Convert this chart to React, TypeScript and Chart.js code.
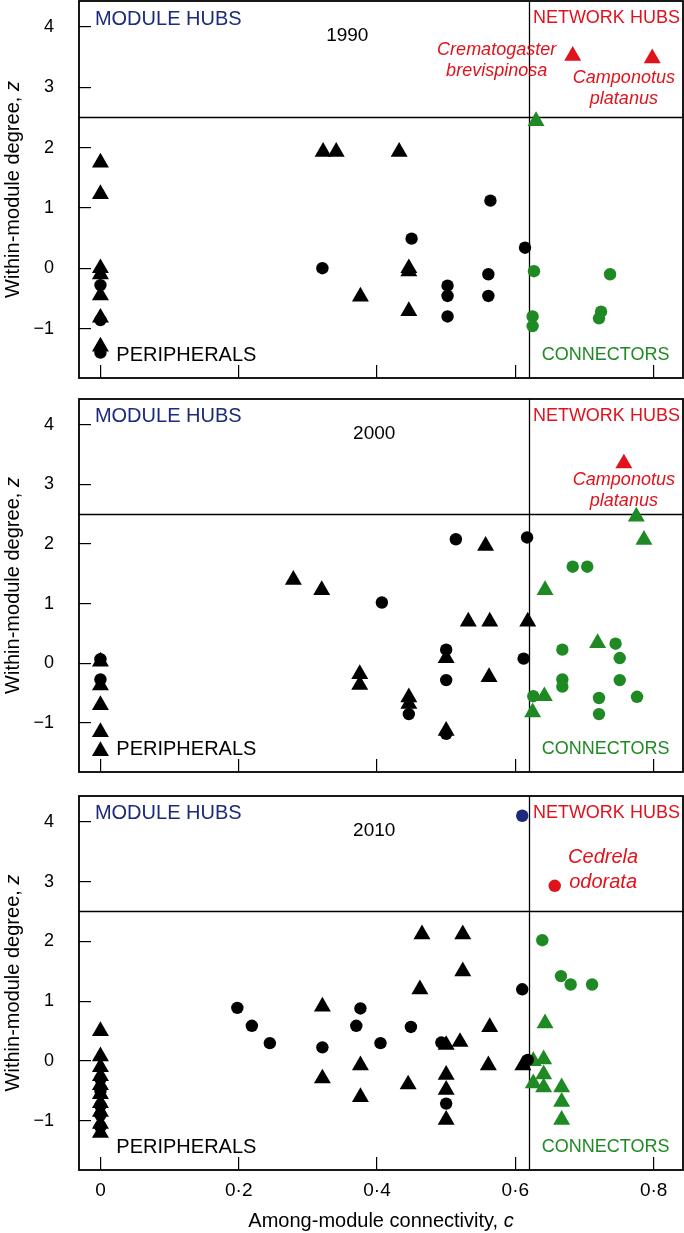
import React, { useEffect, useRef } from 'react';
import { Chart, registerables } from 'chart.js';
Chart.register(...registerables);

type P = [number, number];

// ---------- axes ----------
const xTicks = [0, 0.2, 0.4, 0.6, 0.8];
const xTickLabels = ['0', '0·2', '0·4', '0·6', '0·8'];
const yTicks = [-1, 0, 1, 2, 3, 4];
const yTickLabels = ['−1', '0', '1', '2', '3', '4'];
const X_MIN = -0.031;
const X_MAX = 0.8425;
const Y_MIN = -1.82;
const Y_MAX = 4.43;
const C_THRESHOLD = 0.62;
const Z_THRESHOLD = 2.5;

// ---------- 1990 ----------
const periphTriangles1990: P[] = [
  [0, 1.75], [0, 1.23], [0, 0.0], [0, -0.1], [0, -0.45], [0, -0.82], [0, -1.3],
  [0.322, 1.93], [0.341, 1.93], [0.376, -0.47], [0.432, 1.93], [0.446, 0.0],
  [0.446, -0.05], [0.446, -0.71],
];
const periphCircles1990: P[] = [
  [0, -0.28], [0, -0.86], [0, -1.4], [0.321, 0.0], [0.45, 0.49], [0.502, -0.29],
  [0.502, -0.46], [0.502, -0.8], [0.561, -0.1], [0.561, -0.46], [0.564, 1.12], [0.614, 0.34],
];
const connTriangles1990: P[] = [[0.63, 2.44]];
const connCircles1990: P[] = [
  [0.627, -0.05], [0.625, -0.8], [0.625, -0.96], [0.737, -0.1], [0.724, -0.72], [0.721, -0.83],
];
const hubTriangles1990: P[] = [[0.683, 3.52], [0.798, 3.48]];

// ---------- 2000 ----------
const periphTriangles2000: P[] = [
  [0, 0.03], [0, -0.37], [0, -0.7], [0, -1.15], [0, -1.47], [0.279, 1.4], [0.32, 1.23],
  [0.375, -0.18], [0.375, -0.36], [0.446, -0.57], [0.446, -0.68], [0.5, 0.09], [0.5, -1.13],
  [0.532, 0.7], [0.563, 0.7], [0.618, 0.7], [0.557, 1.97], [0.562, -0.23],
];
const periphCircles2000: P[] = [
  [0, 0.07], [0, -0.27], [0.407, 1.02], [0.446, -0.85], [0.5, 0.23], [0.5, -0.28],
  [0.5, -1.18], [0.514, 2.08], [0.617, 2.11], [0.612, 0.08],
];
const connTriangles2000: P[] = [
  [0.775, 2.46], [0.786, 2.07], [0.643, 1.23], [0.719, 0.34], [0.642, -0.55], [0.625, -0.82],
];
const connCircles2000: P[] = [
  [0.683, 1.62], [0.704, 1.62], [0.668, 0.23], [0.668, -0.27], [0.668, -0.39], [0.626, -0.55],
  [0.745, 0.33], [0.751, 0.09], [0.751, -0.28], [0.721, -0.58], [0.721, -0.85], [0.776, -0.56],
];
const hubTriangles2000: P[] = [[0.757, 3.35]];

// ---------- 2010 ----------
const periphTriangles2010: P[] = [
  [0, 0.5], [0, 0.08], [0, -0.1], [0, -0.25], [0, -0.4], [0, -0.55], [0, -0.7], [0, -0.85],
  [0, -1.05], [0, -1.2], [0.321, 0.91], [0.321, -0.29], [0.376, -0.07], [0.376, -0.6],
  [0.445, -0.39], [0.462, 1.2], [0.465, 2.12], [0.524, 2.12], [0.524, 1.5], [0.52, 0.32],
  [0.5, 0.27], [0.5, -0.23], [0.5, -0.48], [0.5, -0.98], [0.563, 0.57], [0.561, -0.07],
  [0.611, -0.07],
];
const periphCircles2010: P[] = [
  [0, -0.3], [0, -0.5], [0, -0.75], [0, -0.9], [0, -1.1], [0.198, 0.89], [0.219, 0.59],
  [0.245, 0.3], [0.321, 0.23], [0.376, 0.88], [0.37, 0.59], [0.405, 0.3], [0.449, 0.57],
  [0.493, 0.31], [0.5, -0.71], [0.61, 1.2], [0.618, 0.02],
];
const connTriangles2010: P[] = [
  [0.643, 0.63], [0.626, 0.0], [0.641, 0.03], [0.641, -0.22], [0.626, -0.37], [0.641, -0.44],
  [0.667, -0.44], [0.667, -0.68], [0.667, -0.98],
];
const connCircles2010: P[] = [[0.639, 2.02], [0.666, 1.42], [0.68, 1.28], [0.711, 1.28]];
const hubCircles2010: P[] = [[0.657, 2.93]];
const moduleHubCircles2010: P[] = [[0.61, 4.1]];

// ---------- styles ----------
const BLACK = '#000000';
const GREEN = '#1f8a23';
const RED = '#e0121c';
const NAVY = '#1b2a7b';
const FONT = '"Liberation Sans", Arial, Helvetica, sans-serif';

type Series = { data: P[]; color: string; shape: 'circle' | 'triangle' };
type Note = { lines: string[]; c: number; z: number; size: number; lineGap: number };
type Panel = {
  year: string; yearC: number; top: number; height: number; xAxisHeight: number;
  showX: boolean; series: Series[]; notes: Note[];
};

const zoneLabels = [
  { text: 'MODULE HUBS', c: -0.008, z: 4.13, color: NAVY, size: 20, align: 'left' as const },
  { text: 'NETWORK HUBS', c: 0.838, z: 4.15, color: RED, size: 18, align: 'right' as const },
  { text: 'PERIPHERALS', c: 0.023, z: -1.44, color: BLACK, size: 20, align: 'left' as const },
  { text: 'CONNECTORS', c: 0.823, z: -1.44, color: GREEN, size: 18, align: 'right' as const },
];

const panels: Panel[] = [
  {
    year: '1990', yearC: 0.357, top: 0, height: 380, xAxisHeight: 2, showX: false,
    series: [
      { data: periphCircles1990, color: BLACK, shape: 'circle' },
      { data: periphTriangles1990, color: BLACK, shape: 'triangle' },
      { data: connCircles1990, color: GREEN, shape: 'circle' },
      { data: connTriangles1990, color: GREEN, shape: 'triangle' },
      { data: hubTriangles1990, color: RED, shape: 'triangle' },
    ],
    notes: [
      { lines: ['Crematogaster', 'brevispinosa'], c: 0.573, z: 3.62, size: 18, lineGap: 21 },
      { lines: ['Camponotus', 'platanus'], c: 0.757, z: 3.16, size: 18, lineGap: 21 },
    ],
  },
  {
    year: '2000', yearC: 0.396, top: 398, height: 376, xAxisHeight: 2, showX: false,
    series: [
      { data: periphCircles2000, color: BLACK, shape: 'circle' },
      { data: periphTriangles2000, color: BLACK, shape: 'triangle' },
      { data: connCircles2000, color: GREEN, shape: 'circle' },
      { data: connTriangles2000, color: GREEN, shape: 'triangle' },
      { data: hubTriangles2000, color: RED, shape: 'triangle' },
    ],
    notes: [{ lines: ['Camponotus', 'platanus'], c: 0.757, z: 3.07, size: 18, lineGap: 21 }],
  },
  {
    year: '2010', yearC: 0.396, top: 795, height: 438, xAxisHeight: 63, showX: true,
    series: [
      { data: periphCircles2010, color: BLACK, shape: 'circle' },
      { data: periphTriangles2010, color: BLACK, shape: 'triangle' },
      { data: connCircles2010, color: GREEN, shape: 'circle' },
      { data: connTriangles2010, color: GREEN, shape: 'triangle' },
      { data: hubCircles2010, color: RED, shape: 'circle' },
      { data: moduleHubCircles2010, color: NAVY, shape: 'circle' },
    ],
    notes: [{ lines: ['Cedrela', 'odorata'], c: 0.727, z: 3.4, size: 20, lineGap: 25 }],
  },
];

function drawMixed(ctx: CanvasRenderingContext2D, plain: string, ital: string, size: number, cx: number, cy: number) {
  ctx.font = `${size}px ${FONT}`;
  const w1 = ctx.measureText(plain).width;
  ctx.font = `italic ${size}px ${FONT}`;
  const w2 = ctx.measureText(ital).width;
  const x0 = cx - (w1 + w2) / 2;
  ctx.textAlign = 'left';
  ctx.textBaseline = 'middle';
  ctx.font = `${size}px ${FONT}`;
  ctx.fillText(plain, x0, cy);
  ctx.font = `italic ${size}px ${FONT}`;
  ctx.fillText(ital, x0 + w1, cy);
}

function PanelChart({ panel }: { panel: Panel }) {
  const ref = useRef<HTMLCanvasElement>(null);
  useEffect(() => {
    if (!ref.current) return;
    const decor = {
      id: 'decor',
      beforeDatasetsDraw(chart: any) {
        const { ctx, chartArea: a, scales } = chart;
        ctx.save();
        ctx.strokeStyle = '#000';
        ctx.lineWidth = 1.3;
        const xc = Math.round(scales.x.getPixelForValue(C_THRESHOLD)) + 0.5;
        const yz = Math.round(scales.y.getPixelForValue(Z_THRESHOLD)) + 0.5;
        ctx.beginPath();
        ctx.moveTo(a.left, yz); ctx.lineTo(a.right, yz);
        ctx.moveTo(xc, a.top); ctx.lineTo(xc, a.bottom);
        ctx.stroke();
        ctx.lineWidth = 1.8;
        ctx.strokeRect(a.left, a.top, a.right - a.left, a.bottom - a.top);
        ctx.restore();
      },
      afterDatasetsDraw(chart: any) {
        const { ctx, chartArea: a, scales } = chart;
        const X = (v: number) => scales.x.getPixelForValue(v);
        const Y = (v: number) => scales.y.getPixelForValue(v);
        ctx.save();
        ctx.textBaseline = 'middle';
        zoneLabels.forEach((l) => {
          ctx.fillStyle = l.color;
          ctx.font = `${l.size}px ${FONT}`;
          ctx.textAlign = l.align;
          ctx.fillText(l.text, X(l.c), Y(l.z));
        });
        ctx.fillStyle = '#000';
        ctx.font = `19px ${FONT}`;
        ctx.textAlign = 'center';
        ctx.fillText(panel.year, X(panel.yearC), Y(3.85));
        ctx.fillStyle = RED;
        panel.notes.forEach((n) => {
          ctx.font = `italic ${n.size}px ${FONT}`;
          n.lines.forEach((t, i) => ctx.fillText(t, X(n.c), Y(n.z) + i * n.lineGap));
        });
        // y title
        ctx.fillStyle = '#000';
        ctx.save();
        ctx.translate(13, (a.top + a.bottom) / 2);
        ctx.rotate(-Math.PI / 2);
        drawMixed(ctx, 'Within-module degree, ', 'z', 20, 0, 0);
        ctx.restore();
        if (panel.showX) {
          drawMixed(ctx, 'Among-module connectivity, ', 'c', 20, (a.left + a.right) / 2, 426);
        }
        ctx.restore();
      },
    };
    const chart = new Chart(ref.current, {
      type: 'scatter',
      data: {
        datasets: panel.series.map((s) => ({
          data: s.data.map(([x, y]) => ({ x, y })),
          pointStyle: s.shape,
          pointRadius: s.shape === 'triangle' ? 9.8 : 6.2,
          pointBackgroundColor: s.color,
          pointBorderColor: s.color,
          pointBorderWidth: 0,
          clip: false as any,
        })),
      },
      options: {
        animation: false,
        responsive: false,
        maintainAspectRatio: false,
        devicePixelRatio: 1,
        layout: { autoPadding: false, padding: { top: 1, right: 1, left: 0, bottom: 0 } },
        plugins: { legend: { display: false }, tooltip: { enabled: false } },
        scales: {
          x: {
            type: 'linear', position: 'bottom', min: X_MIN, max: X_MAX,
            afterBuildTicks: (s: any) => { s.ticks = xTicks.map((v) => ({ value: v })); },
            afterFit: (s: any) => { s.height = panel.xAxisHeight; s.paddingLeft = 0; s.paddingRight = 0; },
            grid: { drawOnChartArea: false, drawTicks: true, tickLength: -13, color: '#000', lineWidth: 1.2 },
            border: { display: false },
            ticks: {
              display: panel.showX, color: '#000', padding: 22, maxRotation: 0, autoSkip: false,
              font: { family: FONT, size: 19 },
              callback: (v: any) => xTickLabels[xTicks.findIndex((t) => Math.abs(t - v) < 1e-9)],
            },
          },
          y: {
            type: 'linear', position: 'left', min: Y_MIN, max: Y_MAX,
            afterBuildTicks: (s: any) => { s.ticks = yTicks.map((v) => ({ value: v })); },
            afterFit: (s: any) => { s.width = 79; s.paddingTop = 0; s.paddingBottom = 0; },
            grid: { drawOnChartArea: false, drawTicks: true, tickLength: -12, color: '#000', lineWidth: 1.2 },
            border: { display: false },
            ticks: {
              color: '#000', padding: 37, autoSkip: false,
              font: { family: FONT, size: 18 },
              callback: (v: any) => yTickLabels[yTicks.findIndex((t) => Math.abs(t - v) < 1e-9)],
            },
          },
        },
      },
      plugins: [decor],
    } as any);
    return () => chart.destroy();
  }, [panel]);
  return (
    <canvas
      ref={ref}
      width={684}
      height={panel.height}
      style={{ position: 'absolute', left: 0, top: panel.top, width: 684, height: panel.height }}
    />
  );
}

export default function App() {
  return (
    <div style={{ position: 'fixed', left: 0, top: 0, width: 684, height: 1233, background: '#fff', overflow: 'hidden' }}>
      {panels.map((p) => (
        <PanelChart key={p.year} panel={p} />
      ))}
    </div>
  );
}
